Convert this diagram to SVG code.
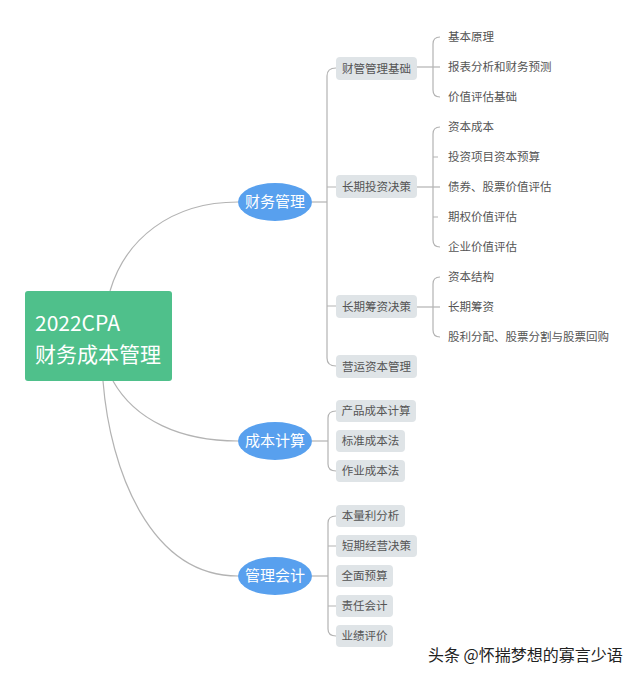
<svg xmlns="http://www.w3.org/2000/svg" width="640" height="677" viewBox="0 0 640 677">
<style>
text{font-family:"Noto Sans CJK SC","Noto Sans",sans-serif}
.ln{fill:none;stroke:#b3b3b3;stroke-width:1.2}
.main{fill:#58a0ee}
.mt{fill:#fff;font-size:15px;text-anchor:middle}
.sub{fill:#dfe4e7}
.st{fill:#555;font-size:11.5px;text-anchor:middle}
.lt{fill:#555;font-size:11.5px}
</style>
<rect width="640" height="677" fill="#fff"/>
<g id="connectors">
<path class="ln" d="M110,291 C125,240 170,202 238,202"/>
<path class="ln" d="M113,381 C135,420 180,441 238,441"/>
<path class="ln" d="M103,381 C110,470 150,576 238,576"/>
<path class="ln" d="M312,202 H327"/>
<path class="ln" d="M336,68 Q327,68 327,76 V358 Q327,366 336,366"/>
<path class="ln" d="M327,187 H336 M327,306 H336"/>
<path class="ln" d="M417,67 H440"/>
<path class="ln" d="M440,37 Q433,37 433,44 V90 Q433,97 440,97"/>
<path class="ln" d="M417,187 H440"/>
<path class="ln" d="M440,127 Q433,127 433,134 V240 Q433,247 440,247"/>
<path class="ln" d="M433,157 H438 M433,217 H438"/>
<path class="ln" d="M417,307 H440"/>
<path class="ln" d="M440,277 Q433,277 433,284 V330 Q433,337 440,337"/>
<path class="ln" d="M312,441 H328"/>
<path class="ln" d="M336,411 Q328,411 328,418 V464 Q328,471 336,471"/>
<path class="ln" d="M312,576 H328"/>
<path class="ln" d="M336,516 Q328,516 328,523 V629 Q328,636 336,636"/>
<path class="ln" d="M328,546 H336 M328,606 H336"/>
</g>
<g id="root">
<rect x="25" y="291" width="147" height="90" rx="3" fill="#4fc08b"/>
<text x="35" y="331" fill="#fff" font-size="21">2022CPA</text>
<text x="35" y="362" fill="#fff" font-size="21">财务成本管理</text>
</g>
<g id="n-cwgl"><ellipse class="main" cx="275" cy="202" rx="37" ry="19"/><text class="mt" x="275" y="207">财务管理</text></g>
<g id="n-cbjs"><ellipse class="main" cx="275" cy="441" rx="37" ry="19"/><text class="mt" x="275" y="446">成本计算</text></g>
<g id="n-glkj"><ellipse class="main" cx="275" cy="576" rx="37" ry="19"/><text class="mt" x="275" y="581">管理会计</text></g>
<g id="s1"><rect class="sub" x="336" y="57" width="81" height="23" rx="4"/><text class="st" x="376.5" y="72.5">财管管理基础</text></g>
<g id="s2"><rect class="sub" x="336" y="175" width="81" height="23" rx="4"/><text class="st" x="376.5" y="190.5">长期投资决策</text></g>
<g id="s3"><rect class="sub" x="336" y="295" width="81" height="23" rx="4"/><text class="st" x="376.5" y="310.5">长期筹资决策</text></g>
<g id="s4"><rect class="sub" x="336" y="355" width="81" height="23" rx="4"/><text class="st" x="376.5" y="370.5">营运资本管理</text></g>
<g id="s5"><rect class="sub" x="336" y="400" width="80" height="22" rx="4"/><text class="st" x="376" y="415">产品成本计算</text></g>
<g id="s6"><rect class="sub" x="336" y="430" width="69" height="22" rx="4"/><text class="st" x="370.5" y="445">标准成本法</text></g>
<g id="s7"><rect class="sub" x="336" y="460" width="69" height="22" rx="4"/><text class="st" x="370.5" y="475">作业成本法</text></g>
<g id="s8"><rect class="sub" x="336" y="505" width="69" height="22" rx="4"/><text class="st" x="370.5" y="520">本量利分析</text></g>
<g id="s9"><rect class="sub" x="336" y="535" width="81" height="22" rx="4"/><text class="st" x="376.5" y="550">短期经营决策</text></g>
<g id="s10"><rect class="sub" x="336" y="565" width="57" height="22" rx="4"/><text class="st" x="364.5" y="580">全面预算</text></g>
<g id="s11"><rect class="sub" x="336" y="595" width="57" height="22" rx="4"/><text class="st" x="364.5" y="610">责任会计</text></g>
<g id="s12"><rect class="sub" x="336" y="625" width="57" height="22" rx="4"/><text class="st" x="364.5" y="640">业绩评价</text></g>
<g id="leaves">
<text class="lt" x="448" y="41">基本原理</text>
<text class="lt" x="448" y="71">报表分析和财务预测</text>
<text class="lt" x="448" y="101">价值评估基础</text>
<text class="lt" x="448" y="131">资本成本</text>
<text class="lt" x="448" y="161">投资项目资本预算</text>
<text class="lt" x="448" y="191">债券、股票价值评估</text>
<text class="lt" x="448" y="221">期权价值评估</text>
<text class="lt" x="448" y="251">企业价值评估</text>
<text class="lt" x="448" y="281">资本结构</text>
<text class="lt" x="448" y="311">长期筹资</text>
<text class="lt" x="448" y="341">股利分配、股票分割与股票回购</text>
</g>
<text x="428" y="661" fill="#222" font-size="16" stroke="#fff" stroke-width="2.5" paint-order="stroke">头条 @怀揣梦想的寡言少语</text>
</svg>
